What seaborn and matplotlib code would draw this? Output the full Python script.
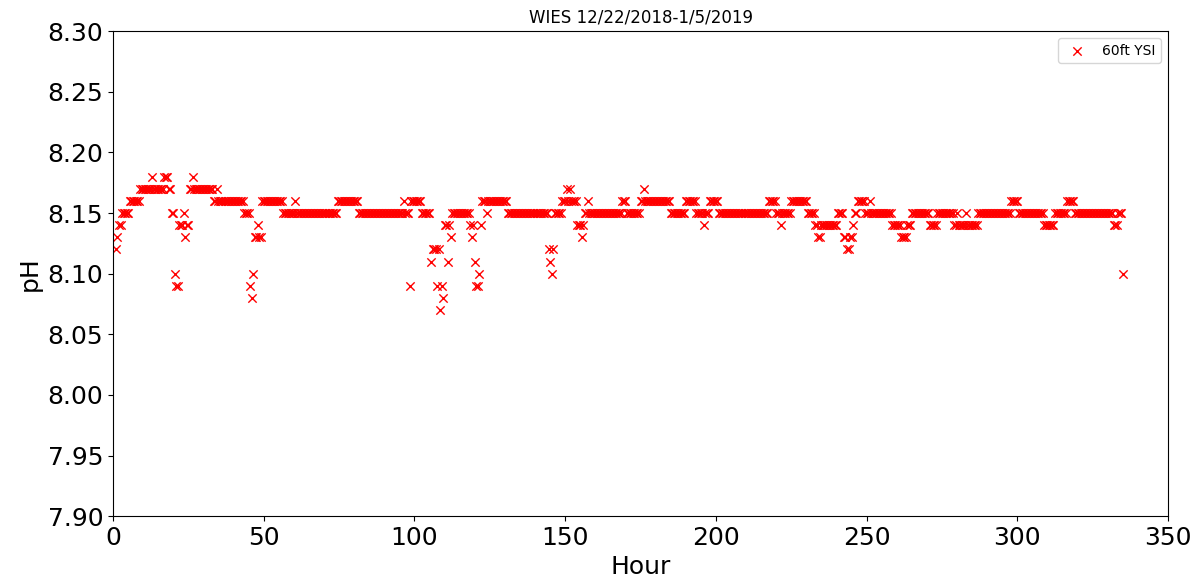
import numpy as np
import pandas as pd
import matplotlib
matplotlib.use('Agg')
import matplotlib.pyplot as plt
import seaborn as sns

# readings every half hour; each value holds until the next change point
change_hour = [1.0, 1.5, 2.0, 3.0, 5.5, 9.0, 13.0, 13.5, 17.0, 18.5, 19.5, 20.5, 21.0, 22.0, 23.5, 24.0, 24.5, 25.5,
               26.5, 27.0, 33.5, 34.5, 35.0, 43.5, 45.5, 46.0, 46.5, 47.0, 48.0, 48.5, 49.5, 56.5, 60.5, 61.0,
               74.5, 81.5, 96.5, 97.0, 98.5, 99.0, 102.5, 105.5, 106.0, 107.5, 108.0, 108.5, 109.0, 109.5,
               110.0, 111.0, 111.5, 112.0, 112.5, 118.5, 119.0, 119.5, 120.0, 120.5, 121.5, 122.0, 122.5,
               124.0, 124.5, 131.0, 144.5, 145.0, 145.5, 146.0, 146.5, 149.0, 150.5, 151.0, 151.5, 152.0,
               154.0, 155.5, 156.0, 156.5, 157.5, 158.0, 169.0, 170.5, 175.0, 176.0, 176.5, 185.0, 190.0,
               193.5, 196.0, 196.5, 198.0, 201.0, 217.5, 220.0, 221.5, 222.0, 225.0, 230.5, 233.0, 234.0,
               235.0, 240.5, 242.5, 243.5, 244.5, 245.5, 246.0, 247.0, 249.5, 251.0, 251.5, 258.5, 261.5,
               263.5, 265.0, 271.0, 273.5, 279.0, 280.0, 280.5, 283.0, 283.5, 287.0, 298.0, 300.5, 309.0,
               312.5, 316.5, 319.0, 332.0, 333.5, 335.0]
change_ph = [8.12, 8.13, 8.14, 8.15, 8.16, 8.17, 8.18, 8.17, 8.18, 8.17, 8.15, 8.10, 8.09, 8.14, 8.15, 8.13, 8.14, 8.17,
             8.18, 8.17, 8.16, 8.17, 8.16, 8.15, 8.09, 8.08, 8.10, 8.13, 8.14, 8.13, 8.16, 8.15, 8.16, 8.15,
             8.16, 8.15, 8.16, 8.15, 8.09, 8.16, 8.15, 8.11, 8.12, 8.09, 8.12, 8.07, 8.09, 8.08,
             8.14, 8.11, 8.14, 8.13, 8.15, 8.14, 8.13, 8.14, 8.11, 8.09, 8.10, 8.14, 8.16,
             8.15, 8.16, 8.15, 8.12, 8.11, 8.10, 8.12, 8.15, 8.16, 8.17, 8.16, 8.17, 8.16,
             8.14, 8.13, 8.14, 8.15, 8.16, 8.15, 8.16, 8.15, 8.16, 8.17, 8.16, 8.15, 8.16,
             8.15, 8.14, 8.15, 8.16, 8.15, 8.16, 8.15, 8.14, 8.15, 8.16, 8.15, 8.14, 8.13,
             8.14, 8.15, 8.13, 8.12, 8.13, 8.14, 8.15, 8.16, 8.15, 8.16, 8.15, 8.14, 8.13,
             8.14, 8.15, 8.14, 8.15, 8.14, 8.15, 8.14, 8.15, 8.14, 8.15, 8.16, 8.15, 8.14,
             8.15, 8.16, 8.15, 8.14, 8.15, 8.10]

hours = np.arange(1.0, 335.5, 0.5)
idx = np.searchsorted(change_hour, hours, side='right') - 1
df = pd.DataFrame({'Hour': hours, 'pH': np.array(change_ph)[idx]})

fig = plt.figure(figsize=(11.98, 5.78), dpi=100)
ax = fig.add_axes([0.0943, 0.107, 0.8807, 0.839])
sns.scatterplot(data=df, x='Hour', y='pH', marker='x', color='red', s=36, linewidth=1.0,
                label='60ft YSI', ax=ax)
ax.set_xlim(0, 350)
ax.set_ylim(7.90, 8.30)
ax.set_yticks(np.arange(7.90, 8.301, 0.05))
ax.tick_params(labelsize=18)
ax.set_xlabel('Hour', fontsize=18)
ax.set_ylabel('pH', fontsize=18)
ax.set_title('WIES 12/22/2018-1/5/2019', fontsize=12)
ax.legend(loc='upper right', fontsize=10)
fig.savefig('out.png', dpi=100)
